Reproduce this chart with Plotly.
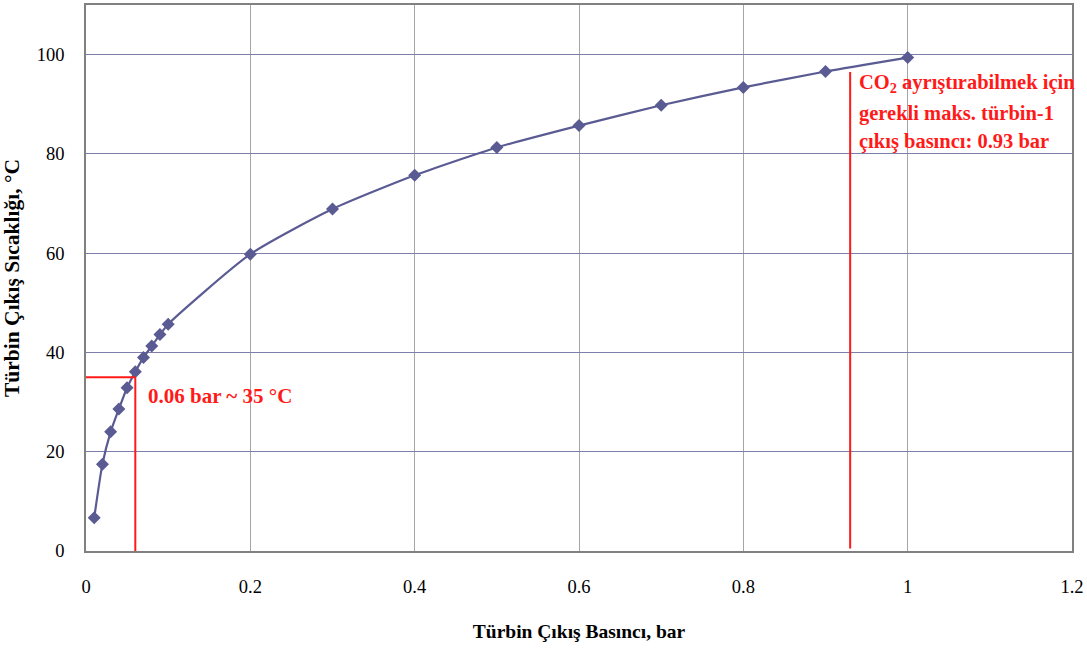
import plotly.graph_objects as go

# Turbine outlet pressure (bar) vs. turbine outlet temperature (°C)
pressure_bar = [0.01, 0.02, 0.03, 0.04, 0.05, 0.06, 0.07, 0.08, 0.09, 0.10,
                0.2, 0.3, 0.4, 0.5, 0.6, 0.7, 0.8, 0.9, 1.0]
temperature_c = [6.7, 17.5, 24.0, 28.6, 32.9, 36.1, 39.0, 41.3, 43.6, 45.7,
                 59.8, 68.9, 75.7, 81.3, 85.7, 89.8, 93.4, 96.6, 99.4]

x_ticks = [0, 0.2, 0.4, 0.6, 0.8, 1, 1.2]
y_ticks = [0, 20, 40, 60, 80, 100]

# Reference markers
low_p, low_t = 0.06, 35
max_p = 0.93

note_lines = ["CO<sub>2</sub> ayrıştırabilmek için",
              "gerekli maks. türbin-1",
              "çıkış basıncı: 0.93 bar"]
note_rows = [94.2, 88.2, 82.6]

serif = "Liberation Serif, Times New Roman, serif"
red = "#ff1a1a"

fig = go.Figure()

fig.add_trace(go.Scatter(
    x=pressure_bar, y=temperature_c,
    mode="lines+markers",
    line=dict(color="#5b5b93", width=2.2, shape="spline", smoothing=0.6),
    marker=dict(symbol="diamond", size=10, color="#5b5b93"),
    showlegend=False,
))

# 0.06 bar ~ 35 °C guide lines
fig.add_shape(type="line", x0=0, x1=low_p, y0=low_t, y1=low_t,
              line=dict(color=red, width=2))
fig.add_shape(type="line", x0=low_p, x1=low_p, y0=low_t, y1=-1,
              line=dict(color=red, width=2))
# maximum outlet pressure line
fig.add_shape(type="line", x0=max_p, x1=max_p, y0=96.5, y1=0.5,
              line=dict(color=red, width=2))

fig.add_annotation(x=0.0735, y=31.2, xanchor="left", yanchor="middle",
                   text="<b>0.06 bar ~ 35 °C</b>", showarrow=False,
                   font=dict(family=serif, size=21, color=red))
for line_text, row in zip(note_lines, note_rows):
    fig.add_annotation(x=0.938, y=row, xanchor="left", yanchor="middle",
                       text=f"<b>{line_text}</b>", showarrow=False,
                       font=dict(family=serif, size=20.5, color=red))

fig.update_layout(
    width=1087, height=648,
    margin=dict(l=86, r=15, t=3, b=97),
    paper_bgcolor="white", plot_bgcolor="white",
    font=dict(family=serif, size=18, color="black"),
)
fig.update_xaxes(
    range=[0, 1.2], tickvals=x_ticks, ticktext=[str(v) for v in x_ticks],
    showgrid=True, gridcolor="#a6a6a6", gridwidth=1.2,
    showline=True, linecolor="#808080", linewidth=1.5, mirror=True,
    ticks="", ticklabelstandoff=18, zeroline=False,
    tickfont=dict(family=serif, size=18.5),
    title=dict(text="<b>Türbin Çıkış Basıncı, bar</b>", standoff=28,
               font=dict(family=serif, size=19.5)),
)
fig.update_yaxes(
    range=[0, 110], tickvals=y_ticks,
    showgrid=True, gridcolor="#7e7eaa", gridwidth=1.2,
    showline=True, linecolor="#808080", linewidth=1.5, mirror=True,
    ticks="", ticklabelstandoff=16, zeroline=False,
    tickfont=dict(family=serif, size=18.5),
    title=dict(text="<b>Türbin Çıkış Sıcaklığı, °C</b>", standoff=14,
               font=dict(family=serif, size=21.5)),
)

fig.write_html("out.html")
